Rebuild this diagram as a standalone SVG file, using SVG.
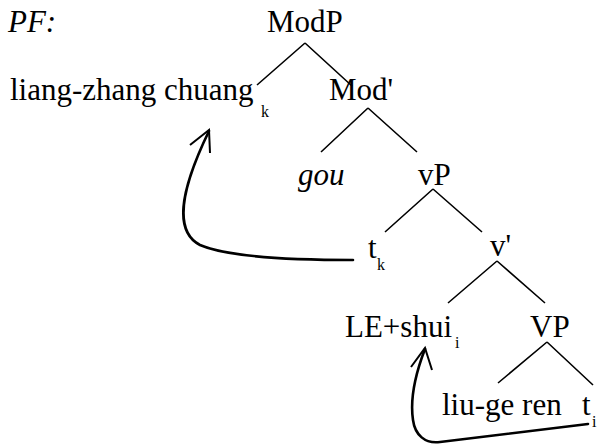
<svg xmlns="http://www.w3.org/2000/svg" width="600" height="445" viewBox="0 0 600 445">
<style>
text{font-family:'Liberation Serif','Times New Roman',Times,'Noto Serif','DejaVu Serif',serif;fill:#000}
.n{font-size:31px}
.s{font-size:16px}
.it{font-style:italic}
.e{stroke:#000;stroke-width:1.6;fill:none}
.mv{stroke:#000;stroke-width:2.6;fill:none;stroke-linecap:round;stroke-linejoin:round}
.ah{stroke:#000;stroke-width:2;fill:none}
</style>
<rect width="600" height="445" fill="#fff"/>
<g id="label-pf"><text class="n it" x="8" y="32">PF:</text></g>
<g id="node-modp"><text class="n" x="267" y="32">ModP</text></g>
<g id="node-liang"><text class="n" x="10" y="100">liang-zhang chuang</text><text class="s" x="261" y="117">k</text></g>
<g id="node-modbar"><text class="n" x="329" y="100">Mod'</text></g>
<g id="node-gou"><text class="n it" x="298" y="185">gou</text></g>
<g id="node-vp"><text class="n" x="418" y="185">vP</text></g>
<g id="node-tk"><text class="n" x="368" y="258">t</text><text class="s" x="377" y="270">k</text></g>
<g id="node-vbar"><text class="n" x="490" y="256">v'</text></g>
<g id="node-leshui"><text class="n" x="345" y="337">LE+shui</text><text class="s" x="455" y="348">i</text></g>
<g id="node-VP"><text class="n" x="530" y="337">VP</text></g>
<g id="node-liuge"><text class="n" x="442" y="415">liu-ge ren</text></g>
<g id="node-ti"><text class="n" x="582" y="415">t</text><text class="s" x="592" y="427">i</text></g>
<g id="connectors">
<path class="e" d="M305,43 L257,85 M305,43 L352,86"/>
<path class="e" d="M368,108 L321,152 M368,108 L417,152"/>
<path class="e" d="M433,189 L385,232 M433,189 L482,232"/>
<path class="e" d="M497,261 L448,303 M497,261 L545,303"/>
<path class="e" d="M547,342 L498,383 M547,342 L593,385"/>
<path class="mv" d="M353,260 C300,260 230,258 200,245 C175,232 178,195 209,131"/>
<polyline class="ah" points="190,145 209,130 210,153"/>
<path class="mv" d="M588,424 L440,442 C425,444 415,435 413,420 C410,400 415,375 425,349"/>
<polyline class="ah" points="411,367 425,348 432,370"/>
</g>
</svg>
